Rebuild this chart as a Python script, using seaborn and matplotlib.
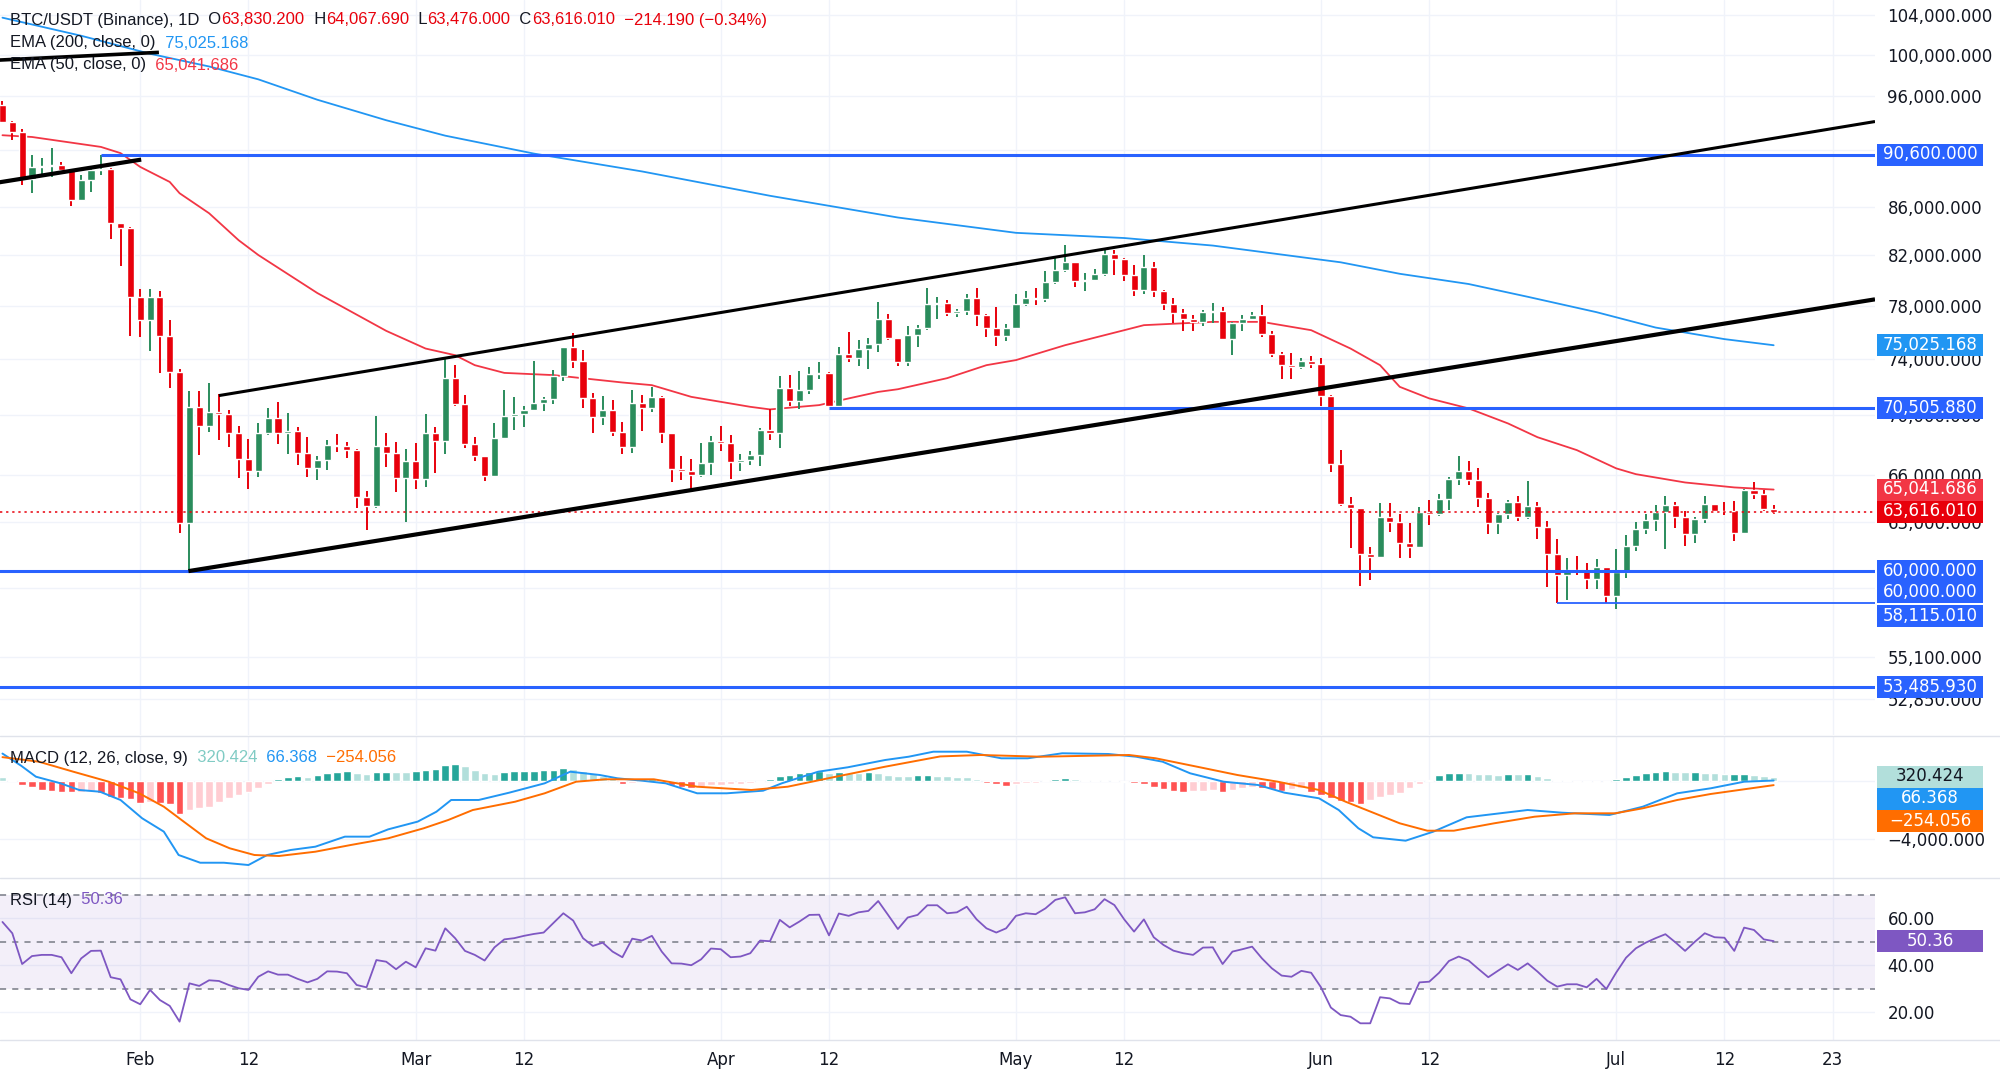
import numpy as np
import pandas as pd
import matplotlib
matplotlib.use("Agg")
import matplotlib.pyplot as plt
from matplotlib.patches import Rectangle
from matplotlib.lines import Line2D
from matplotlib.ticker import NullLocator
import seaborn as sns

# =============================
# DATOS
# =============================
start_day = pd.Timestamp("2026-01-18")
first_open = 95140

closes = [
    93580, 92600, 88400, 89450, 89550, 89650, 89200, 86650, 88330, 89200,
    89350, 84630, 84260, 78700, 76900, 78700, 75720, 73080, 62900, 70550,
    69250, 70240, 70080, 68800, 67070, 66240, 68800, 69780, 68800, 68900,
    67450, 66420, 66960, 67960, 67900, 67630, 64580, 64000, 67920, 67450,
    65800, 66920, 65720, 68800, 68230, 72640, 70820, 68030, 67230, 65930,
    68420, 69940, 70080, 70390, 70830, 71120, 72760, 74870, 73870, 71180,
    69890, 70390, 68860, 67850, 70870, 70520, 71290, 68760, 66350, 66280,
    65980, 66750, 68230, 68080, 66810, 66950, 67300, 68980, 68800, 71890,
    71010, 71760, 72900, 73000, 70640, 74370, 74090, 74730, 75100, 77010,
    75530, 73820, 75780, 76280, 78130, 78230, 77420, 77600, 78620, 77270,
    76280, 75720, 76350, 78130, 78620, 78500, 79830, 80860, 81430, 79930,
    80050, 80520, 82150, 81690, 80430, 79220, 81070, 79140, 78130, 77420,
    76960, 76780, 77540, 77620, 75460, 76700, 76960, 77270, 75900, 74370,
    73560, 73440, 73860, 73620, 71360, 66700, 64110, 63840, 61000, 60820,
    63270, 63000, 61670, 61450, 63590, 63500, 64430, 65700, 66260, 65650,
    64470, 62900, 63480, 64260, 63270, 63980, 62690, 61020, 59760, 60060,
    60000, 59510, 60220, 58560, 59960, 61500, 62540, 63100, 63630, 64050,
    63310, 62270, 63160, 64110, 63670, 63650, 62310, 65000, 64730, 63830.2,
    63616.01,
]
highs = [
    95500, 93700, 92900, 90550, 90300, 91200, 89950, 89300, 88770, 89500,
    90540, 89400, 84700, 84300, 79350, 79350, 79140, 76950, 73300, 71700,
    71700, 72240, 71480, 70390, 69250, 68370, 69440, 70520, 70940, 70130,
    69200, 68490, 67250, 68300, 68690, 68150, 67700, 64960, 69960, 68800,
    68180, 67700, 68120, 70060, 69200, 74050, 73560, 71410, 68490, 67250,
    69480, 71760, 71290, 70640, 73850, 71300, 73190, 74900, 75950, 74660,
    71570, 71340, 71060, 69550, 71810, 71410, 72000, 71340, 68800, 67230,
    67070, 68120, 68570, 69250, 68640, 67360, 67560, 69100, 70410, 72760,
    72840, 73120, 73400, 73780, 73050, 74870, 75980, 75400, 75550, 78270,
    77370, 75600, 76480, 76530, 79430, 78700, 78480, 77800, 78950, 79430,
    77350, 77900, 76600, 78890, 79170, 79400, 80720, 81750, 82830, 81500,
    80600, 80900, 82420, 82400, 81750, 81230, 82020, 81500, 79200, 78580,
    77750, 77270, 77720, 78200, 77900, 76800, 77270, 77540, 78050, 76100,
    74500, 74470, 74050, 74230, 74050, 71400, 67620, 64570, 63880, 61450,
    64190, 64190, 63480, 62900, 63900, 64360, 64730, 65870, 67230, 66920,
    66430, 64800, 63520, 64360, 64620, 65590, 64260, 63080, 61910, 60760,
    60900, 60500, 60720, 60250, 61300, 62180, 63000, 63460, 64050, 64640,
    64260, 63700, 63310, 64620, 64150, 64260, 64310, 65050, 65560, 65000,
    64067.69,
]
lows = [
    93500, 91950, 87900, 87260, 88570, 88600, 89150, 86100, 86600, 87300,
    88800, 83380, 81150, 75720, 75650, 74600, 72960, 71900, 62300, 60000,
    67300, 68860, 68300, 67810, 65760, 65090, 65870, 68650, 68010, 67340,
    66630, 65870, 65650, 66300, 67510, 67100, 63880, 62480, 63880, 66480,
    64900, 63000, 65050, 65220, 66130, 67400, 70640, 67740, 66920, 65600,
    65870, 68350, 68980, 69200, 70300, 70300, 70800, 72400, 73370, 70520,
    68800, 69320, 68570, 67360, 67450, 68930, 70260, 68120, 65540, 65650,
    65050, 65870, 65980, 67560, 65720, 66240, 66630, 66560, 68300, 67740,
    70640, 70470, 71460, 72540, 70600, 70550, 73820, 73510, 73300, 74540,
    75420, 73500, 73500, 74870, 76200, 76960, 77200, 77150, 77270, 76480,
    75650, 74950, 75350, 76280, 78000, 78100, 78330, 79700, 80650, 79480,
    79170, 79950, 80320, 80450, 79960, 78780, 78950, 78700, 77670, 76700,
    76100, 76100, 76480, 76700, 75400, 74290, 76100, 76910, 75650, 74170,
    72550, 72530, 73250, 73370, 70640, 66190, 64000, 61360, 59140, 59470,
    60760, 62380, 60760, 60760, 61400, 62830, 63360, 63730, 65320, 65320,
    63900, 62270, 62270, 63150, 63080, 63200, 61910, 59080, 58115, 58300,
    59760, 58920, 58920, 58160, 57770, 59600, 61220, 62270, 62430, 61300,
    62620, 61520, 61700, 62900, 63600, 63420, 61820, 62250, 64420, 63650,
    63476.0,
]

# EMA (dia desde el inicio, valor)
ema50_idx = [0, 3, 10, 12, 14, 17, 18, 21, 24, 26, 32, 39, 43, 46, 48, 51, 56, 63, 66, 70,
             76, 78, 83, 86, 89, 91, 96, 100, 103, 108, 114, 116, 123, 128, 133, 137, 140,
             142, 145, 149, 153, 156, 160, 164, 166, 171, 176, 180]
ema50_val = [92350, 92190, 91290, 90730, 89500, 88180, 87200, 85490, 83240, 82030,
             79000, 76100, 74780, 74290, 73560, 73000, 72840, 72310, 72120, 71290,
             70590, 70410, 70710, 71180, 71640, 71830, 72620, 73560, 73930, 75030,
             76150, 76530, 76780, 76780, 76150, 74780, 73560, 72000, 71180, 70480,
             69440, 68500, 67630, 66420, 66040, 65500, 65180, 65041.686]
ema200_idx = [0, 8, 15, 21, 26, 32, 39, 45, 54, 65, 78, 91, 103, 114, 123, 129, 136, 142,
              149, 155, 162, 168, 175, 180]
ema200_val = [103740, 101900, 100100, 98850, 97600, 95650, 93730, 92310, 90690, 89100,
              86980, 85130, 83850, 83420, 82800, 82170, 81440, 80520, 79710, 78710,
              77520, 76350, 75480, 75025.168]

# MACD (12, 26, 9)
macd_hist = [
    280, 117, -233, -350, -583, -652, -700, -750, -700, -650,
    -800, -1050, -1170, -1200, -1500, -1400, -1520, -1600, -2250, -2000,
    -1860, -1750, -1400, -1170, -930, -700, -470, -150, 160, 300,
    350, 300, 470, 580, 650, 700, 580, 530, 630, 680,
    650, 640, 700, 820, 860, 1120, 1200, 1050, 820, 580,
    550, 650, 700, 750, 760, 770, 800, 930, 880, 700,
    580, 350, 230, -160, -70, 120, 160, -120, -230, -350,
    -470, -350, -230, -220, -200, -180, -70, -60, 160, 350,
    470, 580, 650, 700, 580, 650, 620, 600, 640, 600,
    470, 400, 390, 470, 480, 400, 400, 300, 280, 160,
    -70, -190, -280, -160, -120, -70, 70, 160, 230, 160,
    120, 70, 120, 110, -50, -120, -190, -350, -510, -630,
    -700, -650, -640, -580, -750, -580, -470, -400, -470, -540,
    -630, -540, -470, -700, -930, -1160, -1330, -1460, -1560, -1280,
    -1100, -930, -770, -470, -160, 120, 470, 580, 620, 600,
    510, 500, 470, 510, 490, 530, 350, 230, 120, 70,
    -50, -20, -50, -55, 160, 300, 470, 580, 650, 700,
    650, 630, 650, 600, 560, 490, 530, 540, 440, 350,
    320.424,
]
macd_idx = [0, 1.9, 3.4, 5.9, 7.8, 9.9, 12.0, 14.2, 16.4, 17.9, 20.1, 22.5, 25.0, 26.9,
            29.3, 31.8, 34.8, 37.3, 39.2, 42.2, 44.1, 45.6, 48.4, 51.5, 55.1, 57.7, 60.7,
            62.5, 65.0, 67.4, 70.6, 73.6, 77.3, 79.2, 82.9, 85.9, 89.7, 92.1, 94.6, 98.0,
            101.5, 104.2, 107.7, 112.4, 115.2, 117.9, 120.7, 124.1, 127.6, 130.3, 133.8,
            135.8, 137.8, 139.3, 142.6, 145.4, 148.8, 151.6, 155.0, 158.5, 163.3, 166.7,
            170.2, 173.6, 177.0, 180.0]
macd_val = [1950, 1100, 335, -126, -593, -712, -1291, -2570, -3500, -5130, -5670, -5670,
            -5830, -5130, -4780, -4550, -3850, -3850, -3340, -2800, -2110, -1290, -1290,
            -780, -126, 684, 454, 223, 56, -126, -824, -824, -642, -126, 684, 991, 1500,
            1731, 2080, 2080, 1620, 1620, 1970, 1920, 1731, 1382, 572, -14, -244, -782,
            -1173, -1990, -3267, -3895, -4132, -3504, -2499, -2268, -1990, -2177, -2338,
            -1759, -824, -475, -14, 66.368]
signal_idx = [0, 3.7, 7.2, 10.8, 13.9, 16.4, 18.2, 20.7, 23.1, 25.6, 28.1, 31.8, 35.4,
              39.2, 42.8, 45.3, 47.8, 52.1, 55.1, 58.3, 61.3, 66.2, 70.6, 76.1, 79.8, 84.7,
              89.7, 95.3, 99.4, 105.5, 114.5, 117.2, 121.4, 125.5, 129.6, 133.8, 136.5,
              139.3, 142.0, 144.8, 147.5, 151.6, 155.7, 159.8, 163.9, 166.7, 170.2, 173.6,
              177.0, 180.0]
signal_val = [1700, 1382, 684, -14, -824, -1759, -2687, -3965, -4663, -5130, -5200, -4900,
              -4432, -3965, -3267, -2687, -1990, -1410, -824, -14, 154, 154, -363, -593,
              -363, 335, 1033, 1750, 1850, 1731, 1850, 1620, 1033, 454, -14, -593, -1410,
              -2177, -2918, -3434, -3434, -2918, -2457, -2220, -2220, -1871, -1291, -872,
              -544, -254.056]

# RSI (14)
rsi = [
    58.5, 53.7, 40.6, 44.0, 44.5, 44.5, 43.5, 36.7, 43.0, 46.2,
    46.3, 35.0, 34.1, 25.6, 23.5, 29.6, 25.3, 22.8, 16.1, 32.4,
    31.3, 33.7, 33.4, 31.7, 30.3, 29.6, 35.2, 37.5, 36.1, 36.1,
    34.3, 32.8, 34.3, 37.5, 37.4, 36.7, 31.7, 30.7, 42.3, 41.6,
    38.4, 41.6, 39.2, 47.3, 46.3, 55.8, 51.6, 46.2, 44.5, 42.1,
    47.7, 51.1, 51.6, 52.6, 53.4, 54.0, 58.1, 62.2, 59.1, 51.6,
    48.3, 49.7, 45.9, 43.5, 51.4, 50.6, 52.6, 45.9, 40.9, 40.8,
    40.1, 42.6, 47.2, 46.9, 43.5, 43.8, 45.2, 50.6, 50.3, 59.4,
    56.2, 58.7, 61.5, 61.6, 52.8, 62.1, 61.1, 62.6, 63.2, 67.4,
    61.5, 55.5, 60.4, 61.5, 65.6, 65.6, 62.2, 62.6, 65.0, 59.6,
    55.8, 54.0, 55.8, 61.1, 62.2, 61.8, 64.3, 67.9, 69.0, 62.2,
    62.6, 63.9, 68.2, 65.7, 59.6, 54.4, 59.6, 52.0, 48.7, 46.3,
    45.2, 44.5, 47.6, 47.7, 40.6, 45.9, 46.9, 48.0, 43.0, 38.8,
    35.7, 35.2, 37.7, 36.9, 30.7, 22.1, 18.9, 18.2, 15.4, 15.4,
    26.5, 26.0, 23.9, 23.6, 32.8, 33.1, 36.9, 41.9, 43.8, 42.1,
    38.5, 35.0, 37.8, 40.5, 38.1, 40.9, 37.4, 33.5, 31.0, 32.0,
    32.0, 30.7, 34.3, 30.0, 37.0, 43.3, 47.3, 49.7, 51.6, 53.3,
    49.9, 46.2, 50.1, 53.7, 52.0, 51.8, 46.2, 56.1, 55.1, 51.1,
    50.36,
]

# Niveles horizontales y lineas de tendencia (dia desde el inicio, precio)
level_prices = [90600, 70505.88, 60000, 58115.01, 53485.93]
level_from = [10, 84, -1, 158, -1]
channel_top = [(22.0, 71380), (190.3, 93610)]
channel_bottom = [(18.9, 60000), (190.3, 78510)]
left_line = [(-0.3, 88150), (14.1, 90150)]
header_line = [(-0.3, 99480), (15.9, 100240)]

price_ticks = [104000, 100000, 96000, 91000, 86000, 82000, 78000, 74000, 70000,
               66000, 63000, 59000, 55100, 52850]
hidden_ticks = [91000, 59000]   # tapadas por las etiquetas de nivel
date_ticks = ["2026-02-01", "2026-02-12", "2026-03-01", "2026-03-12", "2026-04-01",
              "2026-04-12", "2026-05-01", "2026-05-12", "2026-06-01", "2026-06-12",
              "2026-07-01", "2026-07-12", "2026-07-23"]
date_labels = ["Feb", "12", "Mar", "12", "Apr", "12", "May", "12", "Jun", "12",
               "Jul", "12", "23"]

# =============================
# ESTILO
# =============================
sns.set_style("white")
plt.rcParams["font.family"] = ["DejaVu Sans"]

W, H = 2000, 1087
DARK = "#131722"
GRID = "#f0f3fa"
RED = "#e8000b"
GREEN = "#2a8c5c"
BLUE_LVL = "#2962ff"
HEAD_FONT = ["Liberation Sans", "DejaVu Sans"]


def to_date(days):
    return start_day + pd.to_timedelta(np.asarray(days, dtype=float), unit="D")


dates = to_date(np.arange(len(closes)))
c = np.array(closes, dtype=float)
o = np.r_[first_open, c[:-1]]
h = np.array(highs, dtype=float)
l = np.array(lows, dtype=float)
up = c >= o
ccol = np.where(up, GREEN, RED)

fig = plt.figure(figsize=(W / 100, H / 100), dpi=100)
ax = fig.add_axes([0, 1 - 735 / H, 1875 / W, 735 / H])
ax_m = fig.add_axes([0, 1 - 878 / H, 1875 / W, 142 / H])
ax_r = fig.add_axes([0, 1 - 1040 / H, 1875 / W, 162 / H])

xlim = (start_day - pd.Timedelta(hours=6), start_day + pd.Timedelta(days=190.3))
tick_pos = pd.to_datetime(date_ticks)
for a in (ax, ax_m, ax_r):
    a.set_xlim(xlim)
    for s in a.spines.values():
        s.set_visible(False)
    a.set_xticks(tick_pos)
    a.grid(axis="x", color=GRID, lw=1)
    a.grid(axis="y", color=GRID, lw=1)
    a.set_axisbelow(True)
    a.yaxis.tick_right()
    a.tick_params(axis="y", length=0, pad=9, labelsize=12, labelcolor=DARK)
    a.tick_params(axis="x", length=0)
ax.set_xticklabels([])
ax_m.set_xticklabels([])
ax_r.set_xticklabels(date_labels)
ax_r.tick_params(axis="x", pad=8, labelsize=12, labelcolor=DARK)

# =============================
# 1. PRECIO
# =============================
ax.set_yscale("log")
ax.set_ylim(51020, 105570)
ax.set_yticks(price_ticks)
ax.set_yticklabels(["" if t in hidden_ticks else f"{t:,.3f}" for t in price_ticks])
ax.yaxis.set_minor_locator(NullLocator())

sns.lineplot(x=to_date(ema200_idx), y=ema200_val, ax=ax, color="#2196f3", lw=1.3, zorder=2)
sns.lineplot(x=to_date(ema50_idx), y=ema50_val, ax=ax, color="#f23645", lw=1.3, zorder=2)

ax.vlines(dates, l, h, colors=ccol, lw=1.4, zorder=3)
body = np.maximum(np.abs(c - o), c * 0.0007)
ax.bar(dates, body, bottom=np.minimum(o, c), width=0.72, color=ccol, zorder=3.5)

for p, d0 in zip(level_prices, level_from):
    lw = 1.3 if p == 58115.01 else 2.2
    ax.hlines(p, to_date([d0])[0], xlim[1], color=BLUE_LVL, lw=lw, zorder=4)
ax.axhline(63616.01, color=RED, ls=(0, (1.5, 2.5)), lw=1.1, zorder=4)

for seg, lw in ((channel_top, 2.2), (channel_bottom, 3.0), (left_line, 3.0), (header_line, 2.6)):
    ax.plot(to_date([seg[0][0], seg[1][0]]), [seg[0][1], seg[1][1]], color="black",
            lw=lw, solid_capstyle="butt", zorder=5)

# =============================
# 2. MACD
# =============================
hist = np.array(macd_hist, dtype=float)
prev = np.r_[hist[0] + 1, hist[:-1]]
hcol = np.where(hist >= 0, np.where(hist > prev, "#26a69a", "#b2dfdb"),
                np.where(hist < prev, "#ff5252", "#ffcdd2"))
ax_m.set_ylim(-6736, 3176)
ax_m.set_yticks([-4000, 0])
ax_m.set_yticklabels(["\u22124,000.000", ""])
ax_m.bar(dates, hist, width=0.78, color=hcol, zorder=2)
sns.lineplot(x=to_date(macd_idx), y=macd_val, ax=ax_m, color="#2196f3", lw=1.4, zorder=3)
sns.lineplot(x=to_date(signal_idx), y=signal_val, ax=ax_m, color="#ff6d00", lw=1.4, zorder=3)

# =============================
# 3. RSI
# =============================
ax_r.set_ylim(8.3, 77.2)
ax_r.set_yticks([60, 40, 20])
ax_r.set_yticklabels(["60.00", "40.00", "20.00"])
ax_r.axhspan(30, 70, color="#7e57c2", alpha=0.09, lw=0, zorder=1)
for lvl in (70, 50, 30):
    ax_r.axhline(lvl, color="#787b86", ls=(0, (4, 4)), lw=1.1, zorder=2)
sns.lineplot(x=dates, y=rsi, ax=ax_r, color="#7e57c2", lw=1.3, zorder=3)

for a in (ax, ax_m, ax_r):
    a.set_xlabel("")
    a.set_ylabel("")
    if a.get_legend():
        a.get_legend().remove()

# separadores de paneles
for yy in (736, 878, 1040):
    fig.add_artist(Line2D([0, 1], [1 - yy / H] * 2, color="#e0e3eb", lw=1))


# =============================
# ETIQUETAS EN LA ESCALA
# =============================
def price_box(axis, value, label, face, dy=0, fg="white"):
    y = axis.transData.transform((0, value))[1] + dy
    fig.add_artist(Rectangle((1877 / W, (y - 11) / H), 106 / W, 22 / H,
                             transform=fig.transFigure, facecolor=face, edgecolor="none",
                             zorder=10))
    fig.text(1930 / W, (y + 0.5) / H, label, ha="center", va="center", color=fg,
             fontsize=12, zorder=11)


price_box(ax, 90600, "90,600.000", BLUE_LVL)
price_box(ax, 75025.168, "75,025.168", "#2196f3")
price_box(ax, 70505.88, "70,505.880", BLUE_LVL)
price_box(ax, 65041.686, "65,041.686", "#f23645")
price_box(ax, 63616.01, "63,616.010", RED)
price_box(ax, 60000, "60,000.000", BLUE_LVL)
price_box(ax, 60000, "60,000.000", BLUE_LVL, dy=-21)
price_box(ax, 58115.01, "58,115.010", BLUE_LVL, dy=-13)
price_box(ax, 53485.93, "53,485.930", BLUE_LVL)
price_box(ax_m, 320.424, "320.424", "#b2dfdb", fg=DARK)
price_box(ax_m, 66.368, "66.368", "#2196f3", dy=-18)
price_box(ax_m, -254.056, "\u2212254.056", "#ff6d00", dy=-36)
price_box(ax_r, 50.36, "50.36", "#7e57c2")

# =============================
# LEYENDAS DE ENCABEZADO
# =============================
renderer = fig.canvas.get_renderer()


def text_run(x_px, y_px, pieces, size=12):
    for s, col in pieces:
        t = fig.text(x_px / W, 1 - y_px / H, s, color=col, fontsize=size, ha="left",
                     va="center", family=HEAD_FONT, zorder=12)
        x_px = t.get_window_extent(renderer).x1


text_run(10, 20, [("BTC/USDT (Binance), 1D", DARK), ("  O", DARK), ("63,830.200", RED),
                  ("  H", DARK), ("64,067.690", RED), ("  L", DARK), ("63,476.000", RED),
                  ("  C", DARK), ("63,616.010", RED), ("  \u2212214.190 (\u22120.34%)", RED)])
text_run(10, 43, [("EMA (200, close, 0)", DARK), ("  75,025.168", "#2196f3")])
text_run(10, 65, [("EMA (50, close, 0)", DARK), ("  65,041.686", "#f23645")])
text_run(10, 758, [("MACD (12, 26, close, 9)", DARK), ("  320.424", "#80cbc4"),
                   ("  66.368", "#2196f3"), ("  \u2212254.056", "#ff6d00")])
text_run(10, 900, [("RSI (14)", DARK), ("  50.36", "#7e57c2")])

fig.savefig("out.png", dpi=100, facecolor="white")
